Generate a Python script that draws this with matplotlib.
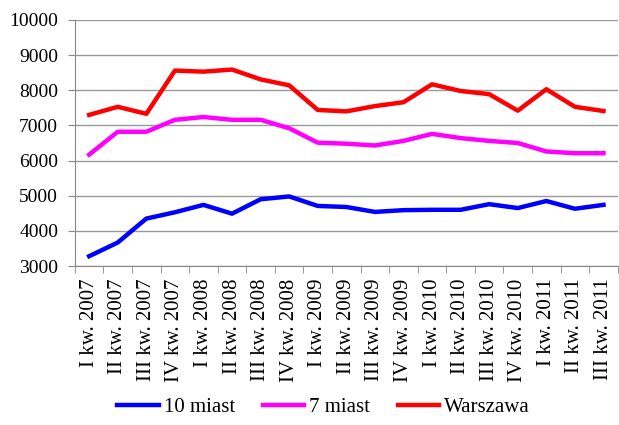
import numpy as np
import matplotlib.pyplot as plt

plt.rcParams['font.family'] = ['Liberation Serif', 'DejaVu Serif']

# data
quarters = ["I kw. 2007", "II kw. 2007", "III kw. 2007", "IV kw. 2007",
            "I kw. 2008", "II kw. 2008", "III kw. 2008", "IV kw. 2008",
            "I kw. 2009", "II kw. 2009", "III kw. 2009", "IV kw. 2009",
            "I kw. 2010", "II kw. 2010", "III kw. 2010", "IV kw. 2010",
            "I kw. 2011", "II kw. 2011", "III kw. 2011"]

miast10 = [3280, 3670, 4350, 4530, 4740, 4490, 4900, 4980, 4710, 4680,
           4540, 4590, 4600, 4600, 4760, 4650, 4850, 4630, 4740]
miast7 = [6170, 6820, 6820, 7160, 7240, 7160, 7160, 6920, 6510, 6480,
          6430, 6560, 6760, 6640, 6560, 6500, 6260, 6210, 6210]
warszawa = [7300, 7530, 7330, 8560, 8530, 8590, 8310, 8140, 7440, 7400,
            7550, 7660, 8170, 7980, 7890, 7420, 8030, 7530, 7410]

fig = plt.figure(figsize=(6.19, 4.25), dpi=100)
ax = fig.add_axes([0.121, 0.374, 0.877, 0.579])

x = np.arange(len(quarters))
ax.plot(x, miast10, color='#0000ff', linewidth=3.2, label="10 miast")
ax.plot(x, miast7, color='#ff00ff', linewidth=3.2, label="7 miast")
ax.plot(x, warszawa, color='#ff0000', linewidth=3.2, label="Warszawa")

ax.set_ylim(3000, 10000)
ax.set_yticks(np.arange(3000, 10001, 1000))
ax.set_xlim(-0.5, len(quarters) - 0.5)
ax.set_xticks(x)
ax.set_xticklabels(quarters, rotation=90)
ax.set_xticks(np.arange(-0.5, len(quarters), 1), minor=True)
ax.tick_params(axis='x', which='major', length=0, pad=9, labelsize=15)
ax.tick_params(axis='x', which='minor', length=5, color='#888888')
ax.tick_params(axis='y', length=5, pad=7, color='#888888', labelsize=14)

ax.grid(axis='y', color='#999999', linewidth=1)
ax.set_axisbelow(True)
for s in ['top', 'right']:
    ax.spines[s].set_visible(False)
ax.spines['left'].set_color('#888888')
ax.spines['bottom'].set_color('#888888')

fig.legend(loc='lower center', bbox_to_anchor=(0.523, -0.025), ncol=3,
           frameon=False, fontsize=15, handlelength=2.0, columnspacing=1.3,
           handletextpad=0.25)

fig.savefig('out.png', dpi=100)
